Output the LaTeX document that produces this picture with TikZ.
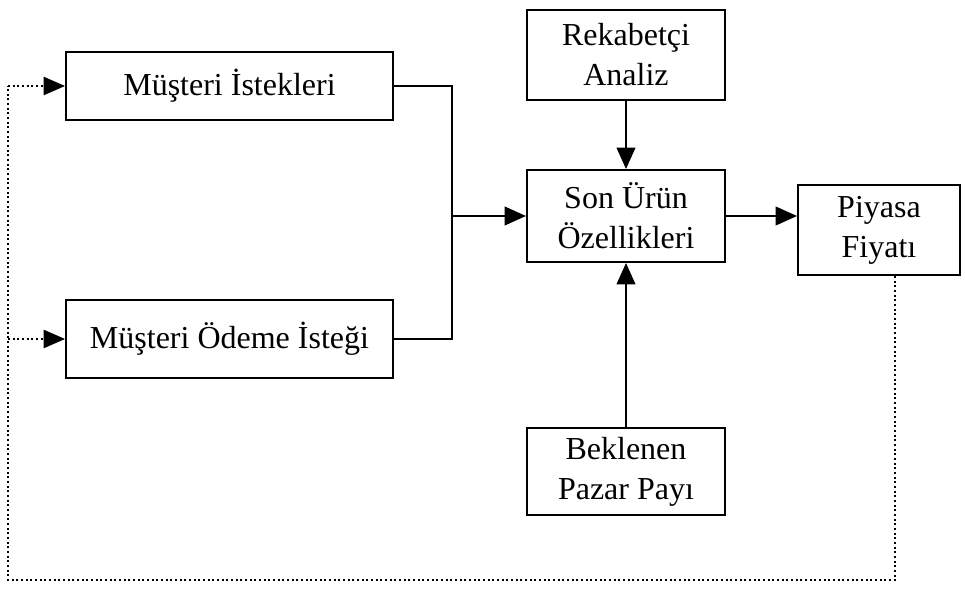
\documentclass[tikz,border=0pt]{standalone}
\usepackage{fontspec}
\setmainfont{Liberation Serif}
\usetikzlibrary{arrows.meta}

\tikzset{
  kutu/.style={draw, line width=1.5, inner sep=2pt, align=center, font=\fontsize{24}{30}\selectfont},
  ok/.style={line width=1.5, -{Triangle[length=16pt,width=14pt]}},
  duz/.style={line width=1.5},
  geri/.style={dotted, line width=1.5},
  geriok/.style={dotted, line width=1.5, -{Triangle[length=16pt,width=14pt,line width=0pt]}}
}

\begin{document}
\begin{tikzpicture}[x=0.75pt,y=0.75pt,yscale=-1,xscale=1]
\useasboundingbox (0,0) rectangle (965,591);

%Shape: Rectangle
\node [kutu, minimum width=245.25pt, minimum height=51pt] (istek) at (229.5,86) {Müşteri İstekleri};
%Shape: Rectangle
\node [kutu, minimum width=245.25pt, minimum height=58.5pt] (odeme) at (229.5,339) {Müşteri Ödeme İsteği};
%Shape: Rectangle
\node [kutu, minimum width=148.5pt, minimum height=67.5pt] (rekabet) at (626,55) {Rekabetçi\\Analiz};
%Shape: Rectangle
\node [kutu, minimum width=148.5pt, minimum height=69pt] (son) at (626,216) {Son Ürün\\Özellikleri};
%Shape: Rectangle
\node [kutu, minimum width=121.5pt, minimum height=67.5pt] (piyasa) at (879,230) {Piyasa\\Fiyatı};
%Shape: Rectangle
\node [kutu, minimum width=148.5pt, minimum height=65.25pt] (pazar) at (626,471.5) {Beklenen\\Pazar Payı};

\coordinate (birles) at (452,216);
\coordinate (altsag) at (895,580);
\coordinate (altsol) at (8,580);

%Straight Lines
\draw [duz] (istek.east) -| (birles);
\draw [duz] (odeme.east) -| (birles);
\draw [ok] (birles) -- (son.west);
\draw [ok] (rekabet) -- (son);
\draw [ok] (pazar) -- (son);
\draw [ok] (son.east) -- (son.east -| piyasa.west);

%Feedback
\draw [geri] (altsag |- piyasa.south) -- (altsag) -- (altsol) -- (altsol |- istek.west);
\draw [geriok] (altsol |- istek.west) -- (istek.west);
\draw [geriok] (altsol |- odeme.west) -- (odeme.west);

\end{tikzpicture}
\end{document}
